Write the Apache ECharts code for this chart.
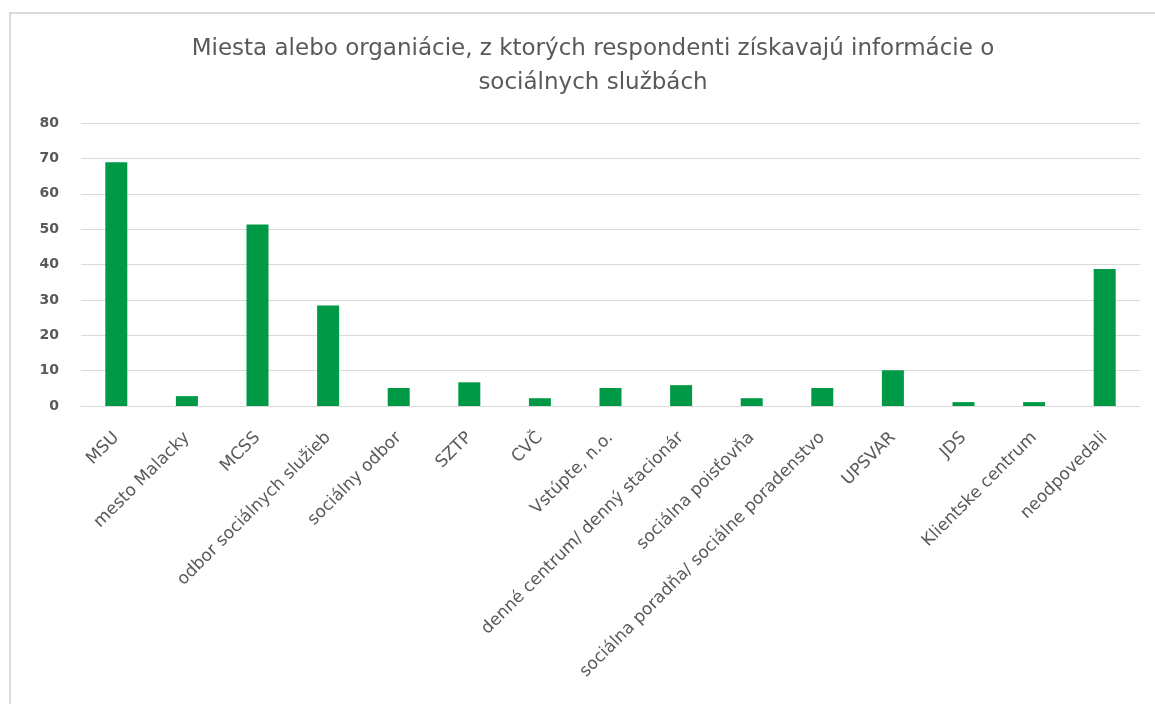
<!DOCTYPE html>
<html>
<head>
<meta charset="utf-8">
<script src="https://cdn.jsdelivr.net/npm/echarts@6/dist/echarts.min.js"></script>
<style>
html,body{margin:0;padding:0;background:#fff;}
#c{width:1155px;height:704px;}
</style>
</head>
<body>
<div id="c"></div>
<script>
var titleText = 'Miesta alebo organiácie, z ktorých respondenti získavajú informácie o\nsociálnych službách';
var categories = ['MSU','mesto Malacky','MCSS','odbor sociálnych služieb','sociálny odbor','SZTP','CVČ','Vstúpte, n.o.','denné centrum/ denný stacionár','sociálna poisťovňa','sociálna poradňa/ sociálne poradenstvo','UPSVAR','JDS','Klientske centrum','neodpovedali'];
var values = [68.9, 2.8, 51.3, 28.4, 5.1, 6.7, 2.2, 5.1, 5.9, 2.2, 5.1, 10.1, 1.1, 1.1, 38.7];
var yMin = 0, yMax = 80, yStep = 10;

var chart = echarts.init(document.getElementById('c'), null, {renderer:'canvas'});
chart.setOption({
  backgroundColor:'#ffffff',
  animation:false,
  title:{
    text:titleText,
    left:588, top:27, textAlign:'center',
    textStyle:{fontFamily:'DejaVu Sans', fontSize:23, fontWeight:'normal', color:'#595959', lineHeight:34}
  },
  graphic:[{
    type:'rect', silent:true,
    shape:{x:10, y:13, width:1200, height:800},
    style:{fill:'none', stroke:'#d9d9d9', lineWidth:2}
  }],
  grid:{left:81, right:15, top:123, bottom:298, containLabel:false},
  xAxis:{
    type:'category', data:categories,
    axisLine:{lineStyle:{color:'#d9d9d9', width:1}},
    axisTick:{show:false},
    axisLabel:{interval:0, rotate:45, margin:29, color:'#595959', fontFamily:'DejaVu Sans', fontSize:17}
  },
  yAxis:{
    type:'value', min:yMin, max:yMax, interval:yStep,
    axisLine:{show:false}, axisTick:{show:false},
    splitLine:{lineStyle:{color:'#d9d9d9', width:1}},
    axisLabel:{margin:22, color:'#595959', fontFamily:'DejaVu Sans', fontWeight:'bold', fontSize:14}
  },
  series:[{
    type:'bar', data:values, barWidth:22,
    itemStyle:{color:'#009a46'}
  }]
});
</script>
</body>
</html>
